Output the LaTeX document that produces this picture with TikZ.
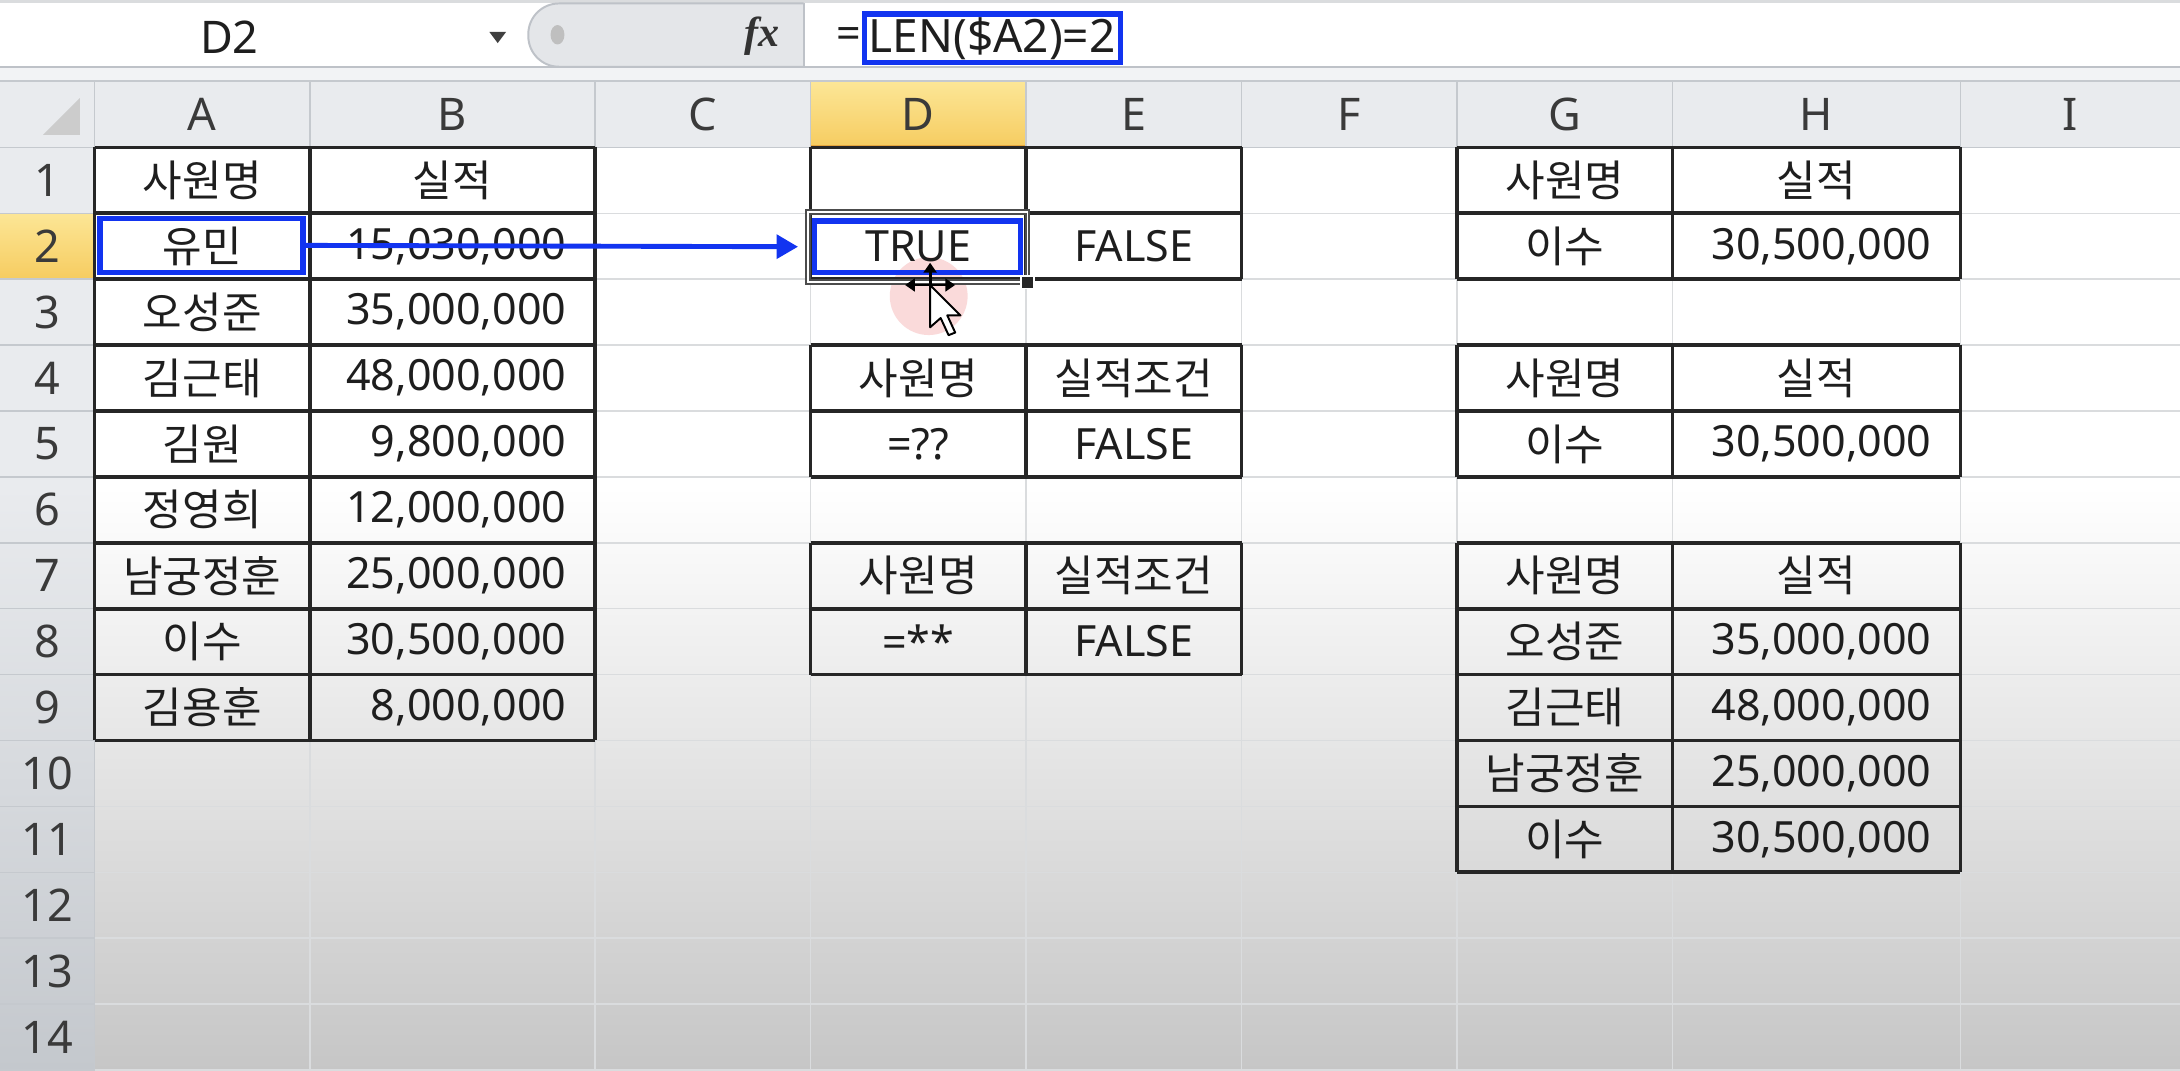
\documentclass[tikz,border=0pt]{standalone}
\usepackage{fontspec}
\setmainfont{Noto Sans}
\newfontfamily\krfont{Noto Sans CJK KR}
\newfontfamily\fxfont{Liberation Serif}
\usetikzlibrary{arrows.meta}

\definecolor{bluebox}{RGB}{18,52,240}
\definecolor{gridgray}{RGB}{218,220,222}
\definecolor{hdrbg}{RGB}{233,235,238}
\definecolor{hdrline}{RGB}{197,201,206}
\definecolor{hdrtext}{RGB}{58,58,58}
\definecolor{celltext}{RGB}{30,30,30}
\definecolor{hdrselA}{RGB}{252,230,150}
\definecolor{hdrselB}{RGB}{246,204,96}
\definecolor{hdrselline}{RGB}{230,165,60}
\definecolor{fadegray}{RGB}{198,198,198}
\definecolor{hdrfade}{RGB}{196,200,205}
\definecolor{barline}{RGB}{190,194,200}
\definecolor{pillgray}{RGB}{228,230,233}
\definecolor{clickpink}{RGB}{245,175,175}

\begin{document}
\begin{tikzpicture}[x=0.01cm,y=-0.01cm,
	kr/.style={font=\krfont\fontsize{8.8}{10}\selectfont, text=celltext, inner sep=0pt},
	num/.style={font=\fontsize{8.8}{10}\selectfont, text=celltext, inner sep=0pt, anchor=east},
	lat/.style={font=\fontsize{8.8}{10}\selectfont, text=celltext, inner sep=0pt},
	hdr/.style={font=\fontsize{9.2}{10}\selectfont, text=hdrtext, inner sep=0pt},
	gridrule/.style={draw=gridgray, line width=0.3pt},
	hdrrule/.style={draw=hdrline, line width=0.3pt},
	tbl/.style={draw=black!85, line width=0.75pt},
	hlbox/.style={draw=bluebox, line width=1.1pt, inner sep=0pt},
	hlarrow/.style={draw=bluebox, line width=1pt, -{Triangle[length=4.4pt,width=4.8pt]}},
	movearr/.style={draw=black, line width=0.6pt, {Triangle[length=2pt,width=2.6pt]}-{Triangle[length=2pt,width=2.6pt]}},
	moveup/.style={draw=black, line width=0.6pt, -{Triangle[length=2pt,width=2.6pt]}}]
	\useasboundingbox (0,0) rectangle (1568,770);
	
	% formula bar
	\fill[white] (0,0) rectangle (1568,48);
	\fill[gridgray] (0,0) rectangle (1568,2.5);
	\node[hdr, text=celltext] (namebox) at (165,27) {D2};
	\fill[black!75] (352,23) -- (364,23) -- (358,31) -- cycle;
	\draw[barline, fill=pillgray, rounded corners=0.22cm] (578,2.5) -- (380,2.5) -- (380,48) -- (578,48);
	\draw[barline] (578,2.5) -- (578,48);
	\fill[black!25] (401,25) ellipse [x radius=5, y radius=7];
	\node[font=\fxfont\bfseries\itshape\fontsize{8.6}{10}\selectfont, text=black!80, inner sep=0pt] (fx) at (548,26) {fx};
	\node[lat, anchor=west] (feq) at (601,27) {=};
	\node[hlbox, minimum width=1.84cm, minimum height=0.35cm, text width=1.78cm, align=left,
		font=\fontsize{9.4}{10}\selectfont, text=celltext] (fbox) at (714,27.5) {LEN(\$A2)=2};
	
	% band under the bar and header row
	\fill[hdrbg!60] (0,48) rectangle (1568,59);
	\draw[barline] (0,48) -- (1568,48);
	\draw[hdrline] (0,58.5) -- (1568,58.5);
	\fill[hdrbg] (0,59) rectangle (1568,106);
	\fill[hdrbg] (0,106) rectangle (68,350);
	\shade[top color=hdrbg, bottom color=hdrfade] (0,350) rectangle (68,770);
	\shade[top color=hdrselA, bottom color=hdrselB] (583,59) rectangle (738,106);
	\draw[hdrselline, line width=0.8pt] (583,105.5) -- (738,105.5);
	\shade[top color=hdrselA, bottom color=hdrselB] (0,153.4) rectangle (68,200.8);
	\fill[black!20] (31,97) -- (57.5,97) -- (57.5,70.5) -- cycle;
	
	% sheet
	\fill[white] (68,106) rectangle (1568,350);
	\shade[top color=white, bottom color=fadegray] (68,350) rectangle (1568,770);
	\foreach \x in {223,428,583,738,893,1048,1203,1410}
		\draw[gridrule] (\x,106) -- (\x,770);
	\foreach \r in {1,...,14}
		\draw[gridrule] (68,{106+47.4*\r}) -- (1568,{106+47.4*\r});
	\foreach \x in {68,223,428,583,738,893,1048,1203,1410}
		\draw[hdrrule] (\x,59) -- (\x,106);
	\draw[hdrrule] (0,106) -- (1568,106);
	\draw[hdrrule] (68,106) -- (68,770);
	\foreach \r in {1,...,14}
		\draw[hdrrule] (0,{106+47.4*\r}) -- (68,{106+47.4*\r});
	
	% column and row headers
	\foreach \c/\x in {A/145.5,B/325.5,C/505.5,D/660.5,E/815.5,F/970.5,G/1125.5,H/1306.5,I/1489}
		\node[hdr] (col\c) at (\x,82.5) {\c};
	\foreach \r in {1,...,14}
		\node[hdr] (row\r) at (34,{106+47.4*(\r-0.5)}) {\r};
	
	% click mark
	\fill[clickpink, fill opacity=0.45] (668,213) circle [radius=28];
	
	% tables
	\foreach \r in {0,...,9}
		\draw[tbl] (68,{106+47.4*\r}) -- (428,{106+47.4*\r});
	\draw[tbl] (68,106) -- (68,532.6) (223,106) -- (223,532.6) (428,106) -- (428,532.6);
	\foreach \a/\b in {0/2,3/5,6/8}{
		\foreach \r in {\a,...,\b}
			\draw[tbl] (583,{106+47.4*\r}) -- (893,{106+47.4*\r});
		\draw[tbl] (583,{106+47.4*\a}) -- (583,{106+47.4*\b})
			(738,{106+47.4*\a}) -- (738,{106+47.4*\b})
			(893,{106+47.4*\a}) -- (893,{106+47.4*\b});
	}
	\foreach \a/\b in {0/2,3/5,6/11}{
		\foreach \r in {\a,...,\b}
			\draw[tbl] (1048,{106+47.4*\r}) -- (1410,{106+47.4*\r});
		\draw[tbl] (1048,{106+47.4*\a}) -- (1048,{106+47.4*\b})
			(1203,{106+47.4*\a}) -- (1203,{106+47.4*\b})
			(1410,{106+47.4*\a}) -- (1410,{106+47.4*\b});
	}
	
	% column A and B
	\node[kr] (A1) at (145.5,129.7) {사원명};
	\node[kr] (B1) at (325.5,129.7) {실적};
	\node[kr] (A2) at (145.5,177.1) {유민};
	\node[num] (B2) at (408,177.1) {15,030,000};
	\node[kr] (A3) at (145.5,224.5) {오성준};
	\node[num] (B3) at (408,224.5) {35,000,000};
	\node[kr] (A4) at (145.5,271.9) {김근태};
	\node[num] (B4) at (408,271.9) {48,000,000};
	\node[kr] (A5) at (145.5,319.3) {김원};
	\node[num] (B5) at (408,319.3) {9,800,000};
	\node[kr] (A6) at (145.5,366.7) {정영희};
	\node[num] (B6) at (408,366.7) {12,000,000};
	\node[kr] (A7) at (145.5,414.1) {남궁정훈};
	\node[num] (B7) at (408,414.1) {25,000,000};
	\node[kr] (A8) at (145.5,461.5) {이수};
	\node[num] (B8) at (408,461.5) {30,500,000};
	\node[kr] (A9) at (145.5,508.9) {김용훈};
	\node[num] (B9) at (408,508.9) {8,000,000};
	
	% column D and E
	\node[lat] (D2) at (660.5,177.1) {TRUE};
	\node[lat] (E2) at (815.5,177.1) {FALSE};
	\node[kr] (D4) at (660.5,271.9) {사원명};
	\node[kr] (E4) at (815.5,271.9) {실적조건};
	\node[lat] (D5) at (660.5,319.3) {=??};
	\node[lat] (E5) at (815.5,319.3) {FALSE};
	\node[kr] (D7) at (660.5,414.1) {사원명};
	\node[kr] (E7) at (815.5,414.1) {실적조건};
	\node[lat] (D8) at (660.5,461.5) {=**};
	\node[lat] (E8) at (815.5,461.5) {FALSE};
	
	% column G and H
	\node[kr] (G1) at (1125.5,129.7) {사원명};
	\node[kr] (H1) at (1306.5,129.7) {실적};
	\node[kr] (G2) at (1125.5,177.1) {이수};
	\node[num] (H2) at (1390,177.1) {30,500,000};
	\node[kr] (G4) at (1125.5,271.9) {사원명};
	\node[kr] (H4) at (1306.5,271.9) {실적};
	\node[kr] (G5) at (1125.5,319.3) {이수};
	\node[num] (H5) at (1390,319.3) {30,500,000};
	\node[kr] (G7) at (1125.5,414.1) {사원명};
	\node[kr] (H7) at (1306.5,414.1) {실적};
	\node[kr] (G8) at (1125.5,461.5) {오성준};
	\node[num] (H8) at (1390,461.5) {35,000,000};
	\node[kr] (G9) at (1125.5,508.9) {김근태};
	\node[num] (H9) at (1390,508.9) {48,000,000};
	\node[kr] (G10) at (1125.5,556.3) {남궁정훈};
	\node[num] (H10) at (1390,556.3) {25,000,000};
	\node[kr] (G11) at (1125.5,603.7) {이수};
	\node[num] (H11) at (1390,603.7) {30,500,000};
	
	% active cell
	\draw[black!70, line width=1.2pt] (581,152.5) rectangle (739,203);
	\draw[white, line width=0.35pt] (581,152.5) rectangle (739,203);
	\draw[white, fill=black!85, line width=0.4pt] (734.5,198.5) rectangle (743.5,207.5);
	
	% blue marks
	\node[hlbox, minimum width=1.46cm, minimum height=0.39cm] (a2mark) at (145,176.5) {};
	\node[hlbox, minimum width=1.48cm, minimum height=0.37cm] (d2mark) at (660,177.5) {};
	\draw[hlarrow, shorten >=0.1cm] (a2mark.east) -- (d2mark.west);
	
	% mouse pointer
	\draw[movearr] (651,205) -- (687,205);
	\draw[moveup] (669,205) -- (669,189);
	\begin{scope}[shift={(669,205)}, scale=1.9]
		\draw[fill=white, draw=black, line width=0.4pt, line join=round]
			(0,0) -- (0,16) -- (4,12.5) -- (7,19) -- (9.5,18) -- (6.5,11.5) -- (11.5,11.5) -- cycle;
	\end{scope}
\end{tikzpicture}
\end{document}
